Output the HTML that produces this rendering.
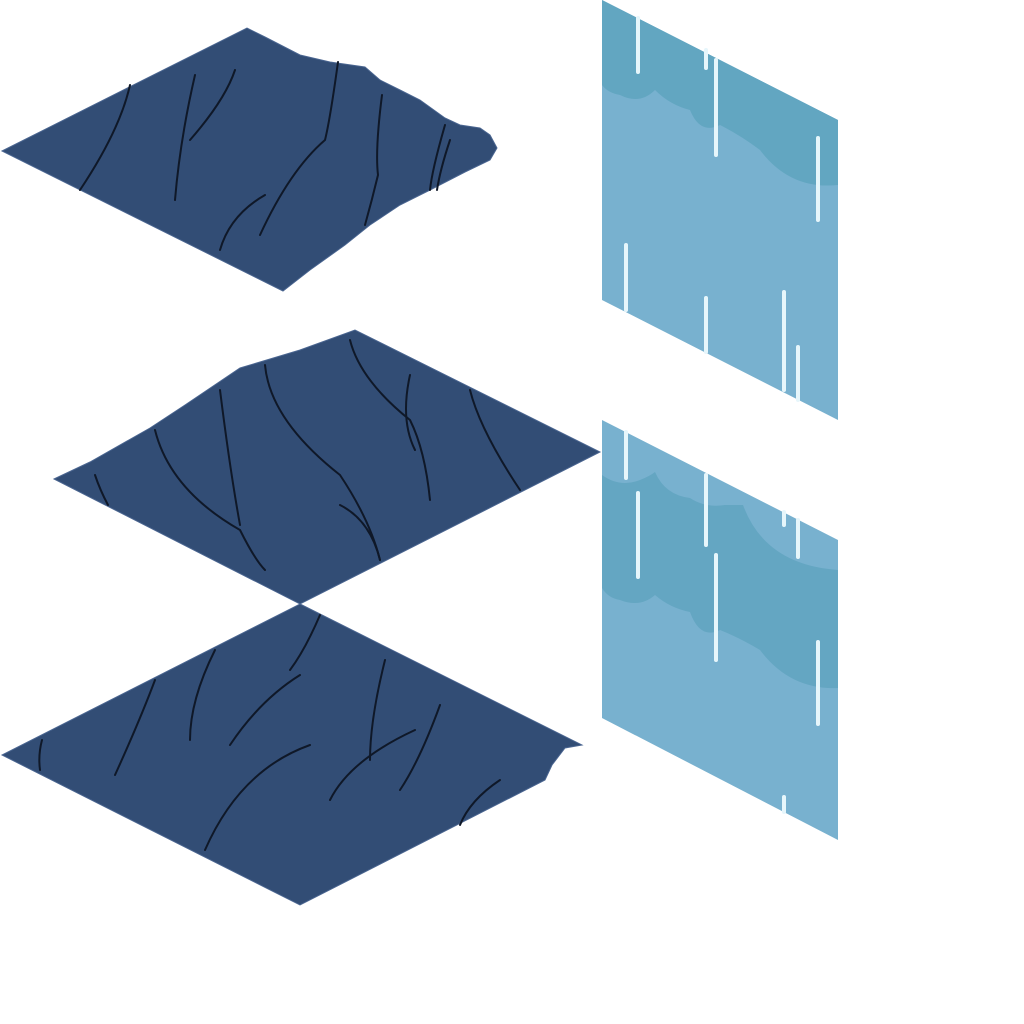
<!DOCTYPE html>
<html><head><style>html,body{margin:0;padding:0;background:#fff;width:1024px;height:1024px;overflow:hidden}</style></head>
<body>
<svg width="1024" height="1024" viewBox="0 0 1024 1024" xmlns="http://www.w3.org/2000/svg">
<g fill="#324d75" stroke="#4a6590" stroke-width="1">
<polygon points="2,151 247,28 265,37 300,55 330,62 365,67 380,80 400,90 420,100 445,118 460,125 480,128 490,135 497,148 490,160 465,172 430,190 400,205 370,225 345,245 310,270 283,291"/>
<polygon points="54,479 90,462 150,428 185,405 240,368 300,350 355,330 600,452 300,604"/>
<polygon points="300,604 582,745 565,748 552,765 545,780 300,905 2,755"/>
</g>
<g fill="none" stroke="#0f1828" stroke-width="2" stroke-linecap="round">
<path d="M130,85 Q120,130 80,190"/>
<path d="M195,75 Q180,140 175,200"/>
<path d="M235,70 Q225,100 190,140"/>
<path d="M338,62 Q330,120 325,140 Q290,170 260,235"/>
<path d="M382,95 Q375,150 378,175 Q372,200 365,225"/>
<path d="M445,125 Q432,170 430,190"/>
<path d="M450,140 Q440,170 437,190"/>
<path d="M265,195 Q230,215 220,250"/>
<path d="M350,340 Q360,380 410,420 Q425,450 430,500"/>
<path d="M410,375 Q400,420 415,450"/>
<path d="M470,390 Q480,430 520,490"/>
<path d="M265,365 Q270,420 340,475 Q370,520 380,560"/>
<path d="M220,390 Q230,470 240,525"/>
<path d="M155,430 Q170,490 240,530 Q255,560 265,570"/>
<path d="M95,475 Q100,490 108,505"/>
<path d="M340,505 Q370,520 380,560"/>
<path d="M320,615 Q305,650 290,670"/>
<path d="M215,650 Q190,700 190,740"/>
<path d="M155,680 Q140,720 115,775"/>
<path d="M300,675 Q260,700 230,745"/>
<path d="M385,660 Q370,720 370,760"/>
<path d="M440,705 Q420,760 400,790"/>
<path d="M415,730 Q350,760 330,800"/>
<path d="M310,745 Q240,770 205,850"/>
<path d="M500,780 Q470,800 460,825"/>
<path d="M42,740 Q38,755 40,770"/>
</g>
<polygon points="602,0 838,120 838,420 602,300" fill="#78b1cf"/>
<path d="M602,0 L838,120 L838,185 Q790,190 760,150 Q740,135 720,125 Q700,135 690,110 Q670,105 655,90 Q640,105 620,95 Q608,93 602,85 Z" fill="#62a6c1"/>
<polygon points="602,420 838,540 838,840 602,718" fill="#78b1cf"/>
<path d="M602,475 Q620,488 640,480 Q650,476 655,472 Q665,495 690,498 Q705,508 725,505 L743,505 Q765,565 838,570 L838,688 Q790,690 760,650 Q740,638 720,630 Q700,640 690,612 Q670,608 655,595 Q640,608 620,600 Q608,598 602,588 Z" fill="#64a6c2"/>
<g stroke="#e6f6fb" stroke-width="4" stroke-linecap="round">
<line x1="638" y1="18" x2="638" y2="72"/>
<line x1="706" y1="50" x2="706" y2="68"/>
<line x1="716" y1="60" x2="716" y2="155"/>
<line x1="818" y1="138" x2="818" y2="220"/>
<line x1="626" y1="245" x2="626" y2="310"/>
<line x1="706" y1="298" x2="706" y2="352"/>
<line x1="784" y1="292" x2="784" y2="390"/>
<line x1="798" y1="347" x2="798" y2="400"/>
<line x1="626" y1="432" x2="626" y2="478"/>
<line x1="638" y1="493" x2="638" y2="577"/>
<line x1="706" y1="475" x2="706" y2="545"/>
<line x1="716" y1="555" x2="716" y2="660"/>
<line x1="784" y1="512" x2="784" y2="525"/>
<line x1="798" y1="520" x2="798" y2="557"/>
<line x1="818" y1="642" x2="818" y2="724"/>
<line x1="784" y1="797" x2="784" y2="812"/>
</g>
</svg>
</body></html>
